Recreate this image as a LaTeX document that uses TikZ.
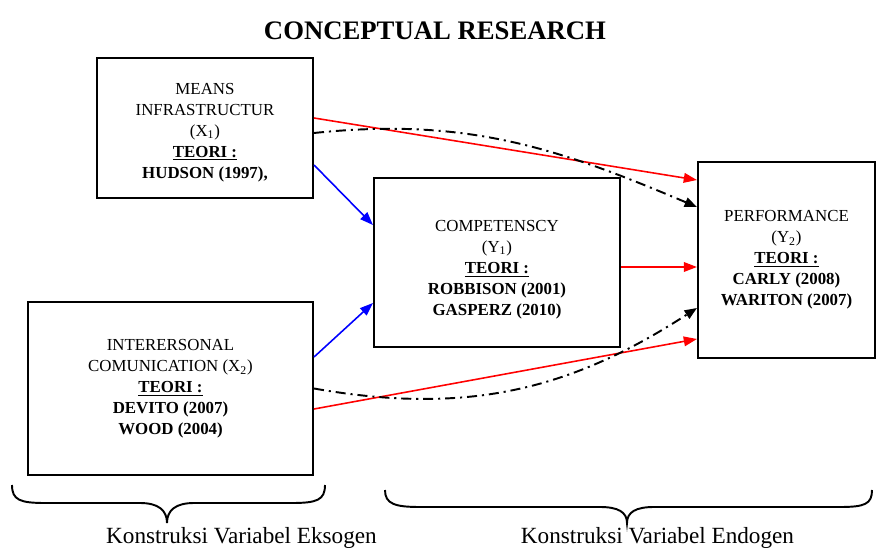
\documentclass[tikz,border=0pt]{standalone}
\usepackage{fontspec}
\setmainfont{Liberation Serif}
\usepackage{tikz}
\usetikzlibrary{arrows.meta, positioning}

\tikzset{
    varbox/.style={draw, rectangle, line width=1.2pt, align=center, inner sep=0pt,
        font=\fontsize{9.6}{11.9}\selectfont},
    redarrow/.style={draw=red, line width=0.9pt, -{Triangle[length=7.5pt, width=5.5pt]}},
    bluearrow/.style={draw=blue, line width=0.9pt, -{Triangle[length=7.5pt, width=5.5pt]}},
    dasharrow/.style={draw=black, line width=1.1pt,
        dash pattern=on 5.7pt off 2.8pt on 1.2pt off 2.8pt,
        -{Triangle[length=7pt, width=5.5pt]}},
    bracket/.style={draw, line width=1.1pt}
}

\begin{document}
\begin{tikzpicture}[x=0.02cm, y=0.02cm]
    \useasboundingbox (0,0) rectangle (877,552);

    % title
    \node[font=\fontsize{15.2}{18}\selectfont\bfseries] (title) at (435,521) {CONCEPTUAL RESEARCH};

    % variables
    \node[varbox, minimum width=4.32cm, minimum height=2.8cm] (x1) at (205,424)
        {\rule{0pt}{0.4cm}MEANS\\ INFRASTRUCTUR\\ (X\textsubscript{1})\\ \textbf{\underline{TEORI :}}\\ \textbf{HUDSON (1997),}};
    \node[varbox, minimum width=5.7cm, minimum height=3.46cm] (x2) at (170.5,163.5)
        {INTERERSONAL\\ COMUNICATION (X\textsubscript{2})\\ \textbf{\underline{TEORI :}}\\ \textbf{DEVITO (2007)}\\ \textbf{WOOD (2004)}};
    \node[varbox, minimum width=4.92cm, minimum height=3.38cm] (y1) at (497,289.5)
        {\rule{0pt}{0.5cm}COMPETENSCY\\ (Y\textsubscript{1})\\ \textbf{\underline{TEORI :}}\\ \textbf{ROBBISON (2001)}\\ \textbf{GASPERZ (2010)}};
    \node[varbox, minimum width=3.54cm, minimum height=3.92cm] (y2) at (786.5,292)
        {PERFORMANCE\\ (Y\textsubscript{2})\\ \textbf{\underline{TEORI :}}\\ \textbf{CARLY (2008)}\\ \textbf{WARITON (2007)}};

    % direct paths
    \draw[bluearrow] ([yshift=-0.74cm]x1.east) -- ([yshift=0.75cm]y1.west);
    \draw[bluearrow] ([yshift=0.63cm]x2.east) -- ([yshift=-0.81cm]y1.west);
    \draw[redarrow] ([yshift=0.2cm]x1.east) -- ([yshift=1.6cm]y2.west);
    \draw[redarrow] ([yshift=-0.09cm]y1.east) -- ([yshift=-0.09cm]y1.east -| y2.west);
    \draw[redarrow] ([yshift=-0.41cm]x2.east) -- ([yshift=-1.58cm]y2.west);

    % indirect paths
    \draw[dasharrow] ([yshift=-0.1cm]x1.east) to[out=6, in=157] ([yshift=1.06cm]y2.west);
    \draw[dasharrow] (x2.east) to[out=-10, in=-147] ([yshift=-0.96cm]y2.west);

    % braces
    \draw[bracket] (12,67) .. controls (12,52) and (20,49) .. (45,49) -- (140,49)
        .. controls (158,49) and (167,42) .. (167,29)
        .. controls (167,42) and (176,49) .. (194,49) -- (292,49)
        .. controls (317,49) and (325,52) .. (325,67);
    \draw[bracket] (385,62) .. controls (385,48) and (395,45) .. (420,45) -- (600,45)
        .. controls (618,45) and (627,40) .. (627,29)
        .. controls (627,40) and (636,45) .. (654,45) -- (840,45)
        .. controls (865,45) and (872,48) .. (872,62);

    \node[font=\fontsize{13.2}{15}\selectfont] (exo) at (241.5,14) {Konstruksi Variabel Eksogen};
    \node[font=\fontsize{13.2}{15}\selectfont] (endo) at (657.5,14) {Konstruksi Variabel Endogen};
\end{tikzpicture}
\end{document}
